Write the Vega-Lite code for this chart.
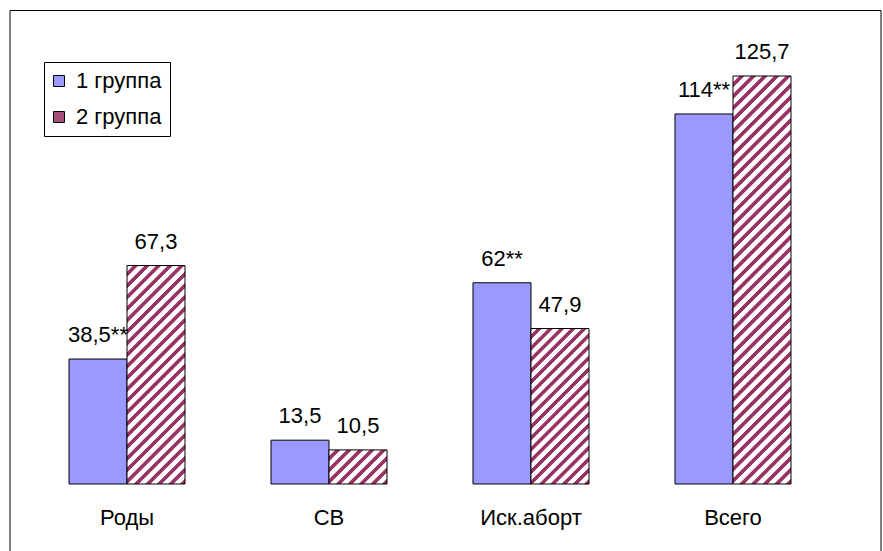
{
"$schema": "https://vega.github.io/schema/vega-lite/v6.json",
"width": 871,
"height": 542,
"autosize": "none",
"padding": {"left": 9.5, "top": 10, "right": 2.5, "bottom": 0},
"background": "white",
"config": {"view": {"stroke": "black", "strokeWidth": 1}, "font": "Liberation Sans"},
"data": {"values": [
{"cat": "Роды", "group": "1 группа", "value": 38.5, "label": "38,5**"},
{"cat": "Роды", "group": "2 группа", "value": 67.3, "label": "67,3"},
{"cat": "СВ", "group": "1 группа", "value": 13.5, "label": "13,5"},
{"cat": "СВ", "group": "2 группа", "value": 10.5, "label": "10,5"},
{"cat": "Иск.аборт", "group": "1 группа", "value": 62, "label": "62**"},
{"cat": "Иск.аборт", "group": "2 группа", "value": 47.9, "label": "47,9"},
{"cat": "Всего", "group": "1 группа", "value": 114, "label": "114**"},
{"cat": "Всего", "group": "2 группа", "value": 125.7, "label": "125,7"}
]},
"encoding": {
"x": {"field": "cat", "type": "nominal", "sort": ["Роды", "СВ", "Иск.аборт", "Всего"],
 "scale": {"range": [16.5, 824.5], "paddingInner": 0.4257, "paddingOuter": 0.2129},
 "axis": {"title": null, "orient": "bottom", "offset": -68, "domain": false, "ticks": false, "tickSize": 0, "labelPadding": 40, "labelBaseline": "alphabetic", "labelFontSize": 22, "labelColor": "black", "labelFont": "Liberation Sans", "labelAngle": 0, "grid": false}},
"xOffset": {"field": "group", "type": "nominal", "sort": ["1 группа", "2 группа"], "scale": {"paddingInner": 0, "paddingOuter": 0}},
"y": {"field": "value", "type": "quantitative", "scale": {"domain": [-20.95, 146.03], "nice": false, "zero": false}, "axis": null}
},
"layer": [
{"mark": {"type": "bar", "stroke": "black", "strokeWidth": 1},
 "encoding": {
 "fill": {"field": "group", "type": "nominal",
  "scale": {"domain": ["1 группа", "2 группа"], "range": ["#9999FF", "#A3507A"]},
  "legend": {"title": null, "orient": "none", "legendX": 34.5, "legendY": 52, "padding": 8, "strokeColor": "black", "fillColor": "white", "cornerRadius": 0,
   "symbolType": "square", "symbolSize": 121, "symbolStrokeColor": "black", "symbolStrokeWidth": 1, "symbolOpacity": 1, "symbolOffset": -4,
   "labelFontSize": 22, "labelFont": "Liberation Sans", "labelColor": "black", "labelOffset": 6, "rowPadding": 14},
  "condition": [
  {"test": "datum.cat === 'СВ' && datum.group === '2 группа'", "value": {"gradient": "linear", "x1": 0, "y1": 0, "x2": 1.18014, "y2": 0.69344, "stops": [
   {"offset":0.0025,"color":"#ffffff"},{"offset":0.0625,"color":"#ffffff"},{"offset":0.0725,"color":"#993366"},{"offset":0.1188,"color":"#993366"},
   {"offset":0.1275,"color":"#ffffff"},{"offset":0.1875,"color":"#ffffff"},{"offset":0.1975,"color":"#993366"},{"offset":0.2438,"color":"#993366"},
   {"offset":0.2525,"color":"#ffffff"},{"offset":0.3125,"color":"#ffffff"},{"offset":0.3225,"color":"#993366"},{"offset":0.3688,"color":"#993366"},
   {"offset":0.3775,"color":"#ffffff"},{"offset":0.4375,"color":"#ffffff"},{"offset":0.4475,"color":"#993366"},{"offset":0.4938,"color":"#993366"},
   {"offset":0.5025,"color":"#ffffff"},{"offset":0.5625,"color":"#ffffff"},{"offset":0.5725,"color":"#993366"},{"offset":0.6188,"color":"#993366"},
   {"offset":0.6275,"color":"#ffffff"},{"offset":0.6875,"color":"#ffffff"},{"offset":0.6975,"color":"#993366"},{"offset":0.7438,"color":"#993366"},
   {"offset":0.7525,"color":"#ffffff"},{"offset":0.8125,"color":"#ffffff"},{"offset":0.8225,"color":"#993366"},{"offset":0.8688,"color":"#993366"},
   {"offset":0.8775,"color":"#ffffff"},{"offset":0.9375,"color":"#ffffff"},{"offset":0.9475,"color":"#993366"},{"offset":0.9938,"color":"#993366"}]}},
  {"test": "datum.cat === 'Роды' && datum.group === '2 группа'", "value": {"gradient": "linear", "x1": 0, "y1": 0, "x2": 0.31386, "y2": 1.18217, "stops": [
   {"offset":0.0008,"color":"#ffffff"},{"offset":0.0208,"color":"#ffffff"},{"offset":0.0242,"color":"#993366"},{"offset":0.0396,"color":"#993366"},
   {"offset":0.0425,"color":"#ffffff"},{"offset":0.0625,"color":"#ffffff"},{"offset":0.0658,"color":"#993366"},{"offset":0.0813,"color":"#993366"},
   {"offset":0.0842,"color":"#ffffff"},{"offset":0.1042,"color":"#ffffff"},{"offset":0.1075,"color":"#993366"},{"offset":0.1229,"color":"#993366"},
   {"offset":0.1258,"color":"#ffffff"},{"offset":0.1458,"color":"#ffffff"},{"offset":0.1492,"color":"#993366"},{"offset":0.1646,"color":"#993366"},
   {"offset":0.1675,"color":"#ffffff"},{"offset":0.1875,"color":"#ffffff"},{"offset":0.1908,"color":"#993366"},{"offset":0.2063,"color":"#993366"},
   {"offset":0.2092,"color":"#ffffff"},{"offset":0.2292,"color":"#ffffff"},{"offset":0.2325,"color":"#993366"},{"offset":0.2479,"color":"#993366"},
   {"offset":0.2508,"color":"#ffffff"},{"offset":0.2708,"color":"#ffffff"},{"offset":0.2742,"color":"#993366"},{"offset":0.2896,"color":"#993366"},
   {"offset":0.2925,"color":"#ffffff"},{"offset":0.3125,"color":"#ffffff"},{"offset":0.3158,"color":"#993366"},{"offset":0.3313,"color":"#993366"},
   {"offset":0.3342,"color":"#ffffff"},{"offset":0.3542,"color":"#ffffff"},{"offset":0.3575,"color":"#993366"},{"offset":0.3729,"color":"#993366"},
   {"offset":0.3758,"color":"#ffffff"},{"offset":0.3958,"color":"#ffffff"},{"offset":0.3992,"color":"#993366"},{"offset":0.4146,"color":"#993366"},
   {"offset":0.4175,"color":"#ffffff"},{"offset":0.4375,"color":"#ffffff"},{"offset":0.4408,"color":"#993366"},{"offset":0.4563,"color":"#993366"},
   {"offset":0.4592,"color":"#ffffff"},{"offset":0.4792,"color":"#ffffff"},{"offset":0.4825,"color":"#993366"},{"offset":0.4979,"color":"#993366"},
   {"offset":0.5008,"color":"#ffffff"},{"offset":0.5208,"color":"#ffffff"},{"offset":0.5242,"color":"#993366"},{"offset":0.5396,"color":"#993366"},
   {"offset":0.5425,"color":"#ffffff"},{"offset":0.5625,"color":"#ffffff"},{"offset":0.5658,"color":"#993366"},{"offset":0.5813,"color":"#993366"},
   {"offset":0.5842,"color":"#ffffff"},{"offset":0.6042,"color":"#ffffff"},{"offset":0.6075,"color":"#993366"},{"offset":0.6229,"color":"#993366"},
   {"offset":0.6258,"color":"#ffffff"},{"offset":0.6458,"color":"#ffffff"},{"offset":0.6492,"color":"#993366"},{"offset":0.6646,"color":"#993366"},
   {"offset":0.6675,"color":"#ffffff"},{"offset":0.6875,"color":"#ffffff"},{"offset":0.6908,"color":"#993366"},{"offset":0.7063,"color":"#993366"},
   {"offset":0.7092,"color":"#ffffff"},{"offset":0.7292,"color":"#ffffff"},{"offset":0.7325,"color":"#993366"},{"offset":0.7479,"color":"#993366"},
   {"offset":0.7508,"color":"#ffffff"},{"offset":0.7708,"color":"#ffffff"},{"offset":0.7742,"color":"#993366"},{"offset":0.7896,"color":"#993366"},
   {"offset":0.7925,"color":"#ffffff"},{"offset":0.8125,"color":"#ffffff"},{"offset":0.8158,"color":"#993366"},{"offset":0.8313,"color":"#993366"},
   {"offset":0.8342,"color":"#ffffff"},{"offset":0.8542,"color":"#ffffff"},{"offset":0.8575,"color":"#993366"},{"offset":0.8729,"color":"#993366"},
   {"offset":0.8758,"color":"#ffffff"},{"offset":0.8958,"color":"#ffffff"},{"offset":0.8992,"color":"#993366"},{"offset":0.9146,"color":"#993366"},
   {"offset":0.9175,"color":"#ffffff"},{"offset":0.9375,"color":"#ffffff"},{"offset":0.9408,"color":"#993366"},{"offset":0.9563,"color":"#993366"},
   {"offset":0.9592,"color":"#ffffff"},{"offset":0.9792,"color":"#ffffff"},{"offset":0.9825,"color":"#993366"},{"offset":0.9979,"color":"#993366"}]}},
  {"test": "datum.cat === 'Иск.аборт' && datum.group === '2 группа'", "value": {"gradient": "linear", "x1": 0, "y1": 0, "x2": 0.44963, "y2": 1.20531, "stops": [
   {"offset":0.0011,"color":"#ffffff"},{"offset":0.0263,"color":"#ffffff"},{"offset":0.0305,"color":"#993366"},{"offset":0.0500,"color":"#993366"},
   {"offset":0.0537,"color":"#ffffff"},{"offset":0.0789,"color":"#ffffff"},{"offset":0.0832,"color":"#993366"},{"offset":0.1026,"color":"#993366"},
   {"offset":0.1063,"color":"#ffffff"},{"offset":0.1316,"color":"#ffffff"},{"offset":0.1358,"color":"#993366"},{"offset":0.1553,"color":"#993366"},
   {"offset":0.1589,"color":"#ffffff"},{"offset":0.1842,"color":"#ffffff"},{"offset":0.1884,"color":"#993366"},{"offset":0.2079,"color":"#993366"},
   {"offset":0.2116,"color":"#ffffff"},{"offset":0.2368,"color":"#ffffff"},{"offset":0.2411,"color":"#993366"},{"offset":0.2605,"color":"#993366"},
   {"offset":0.2642,"color":"#ffffff"},{"offset":0.2895,"color":"#ffffff"},{"offset":0.2937,"color":"#993366"},{"offset":0.3132,"color":"#993366"},
   {"offset":0.3168,"color":"#ffffff"},{"offset":0.3421,"color":"#ffffff"},{"offset":0.3463,"color":"#993366"},{"offset":0.3658,"color":"#993366"},
   {"offset":0.3695,"color":"#ffffff"},{"offset":0.3947,"color":"#ffffff"},{"offset":0.3989,"color":"#993366"},{"offset":0.4184,"color":"#993366"},
   {"offset":0.4221,"color":"#ffffff"},{"offset":0.4474,"color":"#ffffff"},{"offset":0.4516,"color":"#993366"},{"offset":0.4711,"color":"#993366"},
   {"offset":0.4747,"color":"#ffffff"},{"offset":0.5000,"color":"#ffffff"},{"offset":0.5042,"color":"#993366"},{"offset":0.5237,"color":"#993366"},
   {"offset":0.5274,"color":"#ffffff"},{"offset":0.5526,"color":"#ffffff"},{"offset":0.5568,"color":"#993366"},{"offset":0.5763,"color":"#993366"},
   {"offset":0.5800,"color":"#ffffff"},{"offset":0.6053,"color":"#ffffff"},{"offset":0.6095,"color":"#993366"},{"offset":0.6289,"color":"#993366"},
   {"offset":0.6326,"color":"#ffffff"},{"offset":0.6579,"color":"#ffffff"},{"offset":0.6621,"color":"#993366"},{"offset":0.6816,"color":"#993366"},
   {"offset":0.6853,"color":"#ffffff"},{"offset":0.7105,"color":"#ffffff"},{"offset":0.7147,"color":"#993366"},{"offset":0.7342,"color":"#993366"},
   {"offset":0.7379,"color":"#ffffff"},{"offset":0.7632,"color":"#ffffff"},{"offset":0.7674,"color":"#993366"},{"offset":0.7868,"color":"#993366"},
   {"offset":0.7905,"color":"#ffffff"},{"offset":0.8158,"color":"#ffffff"},{"offset":0.8200,"color":"#993366"},{"offset":0.8395,"color":"#993366"},
   {"offset":0.8432,"color":"#ffffff"},{"offset":0.8684,"color":"#ffffff"},{"offset":0.8726,"color":"#993366"},{"offset":0.8921,"color":"#993366"},
   {"offset":0.8958,"color":"#ffffff"},{"offset":0.9211,"color":"#ffffff"},{"offset":0.9253,"color":"#993366"},{"offset":0.9447,"color":"#993366"},
   {"offset":0.9484,"color":"#ffffff"},{"offset":0.9737,"color":"#ffffff"},{"offset":0.9779,"color":"#993366"},{"offset":0.9974,"color":"#993366"}]}},
  {"test": "datum.cat === 'Всего' && datum.group === '2 группа'", "value": {"gradient": "linear", "x1": 0, "y1": 0, "x2": 0.15914, "y2": 1.11953, "stops": [
   {"offset":0.0005,"color":"#ffffff"},{"offset":0.0125,"color":"#ffffff"},{"offset":0.0145,"color":"#993366"},{"offset":0.0238,"color":"#993366"},
   {"offset":0.0255,"color":"#ffffff"},{"offset":0.0375,"color":"#ffffff"},{"offset":0.0395,"color":"#993366"},{"offset":0.0488,"color":"#993366"},
   {"offset":0.0505,"color":"#ffffff"},{"offset":0.0625,"color":"#ffffff"},{"offset":0.0645,"color":"#993366"},{"offset":0.0738,"color":"#993366"},
   {"offset":0.0755,"color":"#ffffff"},{"offset":0.0875,"color":"#ffffff"},{"offset":0.0895,"color":"#993366"},{"offset":0.0988,"color":"#993366"},
   {"offset":0.1005,"color":"#ffffff"},{"offset":0.1125,"color":"#ffffff"},{"offset":0.1145,"color":"#993366"},{"offset":0.1238,"color":"#993366"},
   {"offset":0.1255,"color":"#ffffff"},{"offset":0.1375,"color":"#ffffff"},{"offset":0.1395,"color":"#993366"},{"offset":0.1488,"color":"#993366"},
   {"offset":0.1505,"color":"#ffffff"},{"offset":0.1625,"color":"#ffffff"},{"offset":0.1645,"color":"#993366"},{"offset":0.1738,"color":"#993366"},
   {"offset":0.1755,"color":"#ffffff"},{"offset":0.1875,"color":"#ffffff"},{"offset":0.1895,"color":"#993366"},{"offset":0.1988,"color":"#993366"},
   {"offset":0.2005,"color":"#ffffff"},{"offset":0.2125,"color":"#ffffff"},{"offset":0.2145,"color":"#993366"},{"offset":0.2238,"color":"#993366"},
   {"offset":0.2255,"color":"#ffffff"},{"offset":0.2375,"color":"#ffffff"},{"offset":0.2395,"color":"#993366"},{"offset":0.2488,"color":"#993366"},
   {"offset":0.2505,"color":"#ffffff"},{"offset":0.2625,"color":"#ffffff"},{"offset":0.2645,"color":"#993366"},{"offset":0.2738,"color":"#993366"},
   {"offset":0.2755,"color":"#ffffff"},{"offset":0.2875,"color":"#ffffff"},{"offset":0.2895,"color":"#993366"},{"offset":0.2988,"color":"#993366"},
   {"offset":0.3005,"color":"#ffffff"},{"offset":0.3125,"color":"#ffffff"},{"offset":0.3145,"color":"#993366"},{"offset":0.3238,"color":"#993366"},
   {"offset":0.3255,"color":"#ffffff"},{"offset":0.3375,"color":"#ffffff"},{"offset":0.3395,"color":"#993366"},{"offset":0.3488,"color":"#993366"},
   {"offset":0.3505,"color":"#ffffff"},{"offset":0.3625,"color":"#ffffff"},{"offset":0.3645,"color":"#993366"},{"offset":0.3738,"color":"#993366"},
   {"offset":0.3755,"color":"#ffffff"},{"offset":0.3875,"color":"#ffffff"},{"offset":0.3895,"color":"#993366"},{"offset":0.3988,"color":"#993366"},
   {"offset":0.4005,"color":"#ffffff"},{"offset":0.4125,"color":"#ffffff"},{"offset":0.4145,"color":"#993366"},{"offset":0.4238,"color":"#993366"},
   {"offset":0.4255,"color":"#ffffff"},{"offset":0.4375,"color":"#ffffff"},{"offset":0.4395,"color":"#993366"},{"offset":0.4488,"color":"#993366"},
   {"offset":0.4505,"color":"#ffffff"},{"offset":0.4625,"color":"#ffffff"},{"offset":0.4645,"color":"#993366"},{"offset":0.4738,"color":"#993366"},
   {"offset":0.4755,"color":"#ffffff"},{"offset":0.4875,"color":"#ffffff"},{"offset":0.4895,"color":"#993366"},{"offset":0.4988,"color":"#993366"},
   {"offset":0.5005,"color":"#ffffff"},{"offset":0.5125,"color":"#ffffff"},{"offset":0.5145,"color":"#993366"},{"offset":0.5238,"color":"#993366"},
   {"offset":0.5255,"color":"#ffffff"},{"offset":0.5375,"color":"#ffffff"},{"offset":0.5395,"color":"#993366"},{"offset":0.5488,"color":"#993366"},
   {"offset":0.5505,"color":"#ffffff"},{"offset":0.5625,"color":"#ffffff"},{"offset":0.5645,"color":"#993366"},{"offset":0.5738,"color":"#993366"},
   {"offset":0.5755,"color":"#ffffff"},{"offset":0.5875,"color":"#ffffff"},{"offset":0.5895,"color":"#993366"},{"offset":0.5988,"color":"#993366"},
   {"offset":0.6005,"color":"#ffffff"},{"offset":0.6125,"color":"#ffffff"},{"offset":0.6145,"color":"#993366"},{"offset":0.6238,"color":"#993366"},
   {"offset":0.6255,"color":"#ffffff"},{"offset":0.6375,"color":"#ffffff"},{"offset":0.6395,"color":"#993366"},{"offset":0.6488,"color":"#993366"},
   {"offset":0.6505,"color":"#ffffff"},{"offset":0.6625,"color":"#ffffff"},{"offset":0.6645,"color":"#993366"},{"offset":0.6738,"color":"#993366"},
   {"offset":0.6755,"color":"#ffffff"},{"offset":0.6875,"color":"#ffffff"},{"offset":0.6895,"color":"#993366"},{"offset":0.6988,"color":"#993366"},
   {"offset":0.7005,"color":"#ffffff"},{"offset":0.7125,"color":"#ffffff"},{"offset":0.7145,"color":"#993366"},{"offset":0.7238,"color":"#993366"},
   {"offset":0.7255,"color":"#ffffff"},{"offset":0.7375,"color":"#ffffff"},{"offset":0.7395,"color":"#993366"},{"offset":0.7488,"color":"#993366"},
   {"offset":0.7505,"color":"#ffffff"},{"offset":0.7625,"color":"#ffffff"},{"offset":0.7645,"color":"#993366"},{"offset":0.7738,"color":"#993366"},
   {"offset":0.7755,"color":"#ffffff"},{"offset":0.7875,"color":"#ffffff"},{"offset":0.7895,"color":"#993366"},{"offset":0.7988,"color":"#993366"},
   {"offset":0.8005,"color":"#ffffff"},{"offset":0.8125,"color":"#ffffff"},{"offset":0.8145,"color":"#993366"},{"offset":0.8238,"color":"#993366"},
   {"offset":0.8255,"color":"#ffffff"},{"offset":0.8375,"color":"#ffffff"},{"offset":0.8395,"color":"#993366"},{"offset":0.8488,"color":"#993366"},
   {"offset":0.8505,"color":"#ffffff"},{"offset":0.8625,"color":"#ffffff"},{"offset":0.8645,"color":"#993366"},{"offset":0.8738,"color":"#993366"},
   {"offset":0.8755,"color":"#ffffff"},{"offset":0.8875,"color":"#ffffff"},{"offset":0.8895,"color":"#993366"},{"offset":0.8988,"color":"#993366"},
   {"offset":0.9005,"color":"#ffffff"},{"offset":0.9125,"color":"#ffffff"},{"offset":0.9145,"color":"#993366"},{"offset":0.9238,"color":"#993366"},
   {"offset":0.9255,"color":"#ffffff"},{"offset":0.9375,"color":"#ffffff"},{"offset":0.9395,"color":"#993366"},{"offset":0.9488,"color":"#993366"},
   {"offset":0.9505,"color":"#ffffff"},{"offset":0.9625,"color":"#ffffff"},{"offset":0.9645,"color":"#993366"},{"offset":0.9738,"color":"#993366"},
   {"offset":0.9755,"color":"#ffffff"},{"offset":0.9875,"color":"#ffffff"},{"offset":0.9895,"color":"#993366"},{"offset":0.9988,"color":"#993366"}]}}
  ]
 }
 }
},
{"mark": {"type": "text", "baseline": "alphabetic", "align": "center", "dy": -17, "fontSize": 22, "font": "Liberation Sans", "color": "black"},
 "encoding": {"text": {"field": "label", "type": "nominal"}}}
]
}
